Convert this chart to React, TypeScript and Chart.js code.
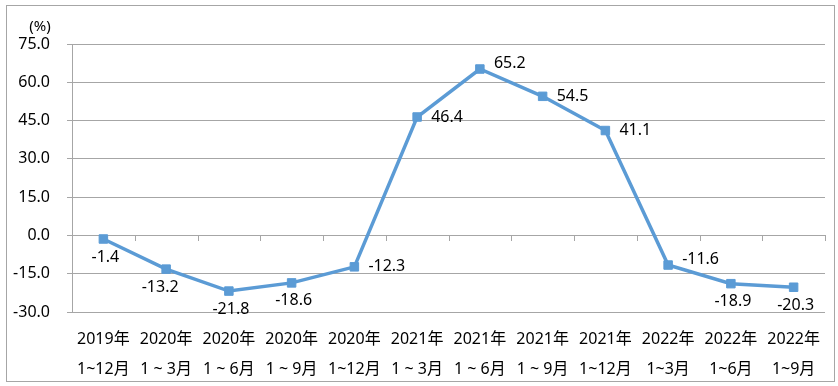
import React, { useEffect, useRef } from "react";
import { Chart, registerables } from "chart.js";

Chart.register(...registerables);

const years = ["2019年", "2020年", "2020年", "2020年", "2020年", "2021年", "2021年", "2021年", "2021年", "2022年", "2022年", "2022年"];
const periods = ["1~12月", "1 ~ 3月", "1 ~ 6月", "1 ~ 9月", "1~12月", "1 ~ 3月", "1 ~ 6月", "1 ~ 9月", "1~12月", "1~3月", "1~6月", "1~9月"];
const growth = [-1.4, -13.2, -21.8, -18.6, -12.3, 46.4, 65.2, 54.5, 41.1, -11.6, -18.9, -20.3];
const labelSide = ["b", "bl", "b", "b", "r", "r", "ru", "r", "r", "ru", "b", "b"];
const yMin = -30;
const yMax = 75;
const yStep = 15;
const unitLabel = "(%)";

const FONT = "'Noto Sans', 'Noto Sans CJK SC', sans-serif";
const GRID = "#a6a6a6";
const LINE = "#5b9bd5";

const decorPlugin = {
  id: "decor",
  beforeDraw(chart: any) {
    const { ctx, width, height } = chart;
    ctx.save();
    ctx.fillStyle = "#fff";
    ctx.fillRect(0, 0, width, height);
    ctx.restore();
  },
  beforeDatasetsDraw(chart: any) {
    const { ctx, chartArea, scales } = chart;
    const x = scales.x;
    const y = scales.y;
    const y0 = y.getPixelForValue(0);
    ctx.save();
    ctx.strokeStyle = GRID;
    ctx.lineWidth = 1;
    ctx.beginPath();
    ctx.moveTo(chartArea.left, Math.round(y0) + 0.5);
    ctx.lineTo(chartArea.right, Math.round(y0) + 0.5);
    const n = x.getLabels().length;
    for (let i = 0; i <= n; i++) {
      const px = i < n ? x.getPixelForValue(i) - (x.getPixelForValue(1) - x.getPixelForValue(0)) / 2 : chartArea.right;
      const rx = Math.round(px) + 0.5;
      ctx.moveTo(rx, Math.round(y0));
      ctx.lineTo(rx, Math.round(y0) + 6);
    }
    ctx.stroke();
    ctx.restore();
  },
  afterDraw(chart: any) {
    const { ctx, chartArea, width, height } = chart;
    ctx.save();
    ctx.strokeStyle = GRID;
    ctx.lineWidth = 1;
    ctx.strokeRect(6.5, 5.5, width - 10, height - 10);
    ctx.fillStyle = "#000";
    ctx.font = `15px ${FONT}`;
    ctx.textAlign = "center";
    ctx.textBaseline = "middle";
    ctx.fillText(unitLabel, chartArea.left - 32, chartArea.top - 17);

    const meta = chart.getDatasetMeta(0);
    ctx.font = `16px ${FONT}`;
    meta.data.forEach((pt: any, i: number) => {
      const v = growth[i].toFixed(1);
      const side = labelSide[i];
      if (side === "r" || side === "ru") {
        ctx.textAlign = "left";
        ctx.fillText(v, pt.x + 14, pt.y + (side === "ru" ? -6 : 0));
      } else {
        ctx.textAlign = "center";
        ctx.fillText(v, pt.x + (side === "bl" ? -6 : 2), pt.y + 18);
      }
    });
    ctx.restore();
  },
};

export default function App() {
  const ref = useRef<HTMLCanvasElement>(null);
  useEffect(() => {
    document.body.style.margin = "0";
    const labels = years.map((y, i) => [y, periods[i]]);
    const chart = new Chart(ref.current!, {
      type: "line",
      data: {
        labels,
        datasets: [
          {
            data: growth,
            borderColor: LINE,
            backgroundColor: LINE,
            borderWidth: 3.5,
            pointStyle: "rect",
            pointRadius: 6,
            pointBorderWidth: 1,
            pointBackgroundColor: LINE,
            pointBorderColor: LINE,
            tension: 0,
          },
        ],
      },
      options: {
        responsive: false,
        animation: false,
        devicePixelRatio: 1,
        layout: { padding: { left: 0, top: 44, right: 13, bottom: 0 } },
        plugins: { legend: { display: false }, tooltip: { enabled: false } },
        scales: {
          x: {
            type: "category",
            offset: true,
            grid: { display: false, drawTicks: false },
            border: { display: false },
            ticks: {
              color: "#000",
              font: { family: FONT, size: 16, lineHeight: 1.85 },
              padding: 13,
              maxRotation: 0,
              autoSkip: false,
            },
            afterFit(scale: any) {
              scale.height = 74;
            },
          },
          y: {
            min: yMin,
            max: yMax,
            grid: { color: GRID, lineWidth: 1, drawTicks: true, tickLength: 5 },
            border: { display: true, color: GRID, width: 1 },
            ticks: {
              stepSize: yStep,
              color: "#000",
              font: { family: FONT, size: 16 },
              padding: 17,
              callback: (v: any) => Number(v).toFixed(1),
            },
            afterFit(scale: any) {
              scale.width = 72;
            },
          },
        },
      },
      plugins: [decorPlugin],
    });
    return () => chart.destroy();
  }, []);
  return (
    <div style={{ width: 838, height: 386 }}>
      <canvas ref={ref} width={838} height={386} />
    </div>
  );
}
